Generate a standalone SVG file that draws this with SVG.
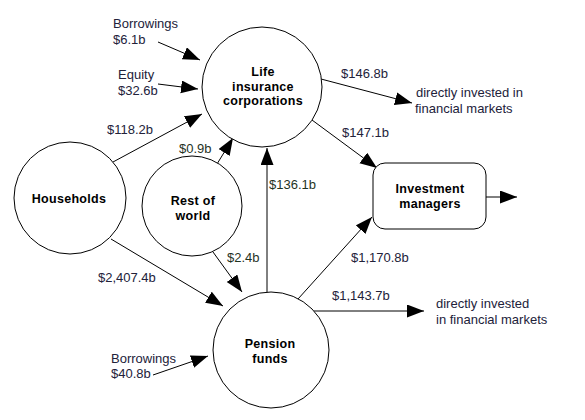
<svg xmlns="http://www.w3.org/2000/svg" width="585" height="420" viewBox="0 0 585 420">
<style>
.node{fill:#fff;stroke:#000;stroke-width:1}
.nl{font-family:"Liberation Sans",Arial,sans-serif;font-size:12.5px;font-weight:bold;fill:#000;text-anchor:middle;letter-spacing:0.3px}
.el{font-family:"Liberation Sans",Arial,sans-serif;font-size:13px;fill:#22223a}
.eg{fill:#1f331f}
.c{stroke:#000;stroke-width:1;fill:none;marker-end:url(#ah)}
</style>
<defs>
<marker id="ah" markerUnits="userSpaceOnUse" markerWidth="18" markerHeight="14" refX="17" refY="6.5" orient="auto">
<path d="M0,0 L17,6.5 L0,13 z" fill="#000"/>
</marker>
</defs>
<rect width="585" height="420" fill="#fff"/>
<g id="connectors">
<line class="c" x1="158" y1="42" x2="200" y2="60"/>
<line class="c" x1="158" y1="84" x2="198" y2="89"/>
<line class="c" x1="113" y1="162" x2="202" y2="114"/>
<line class="c" x1="217" y1="164" x2="233" y2="138"/>
<line class="c" x1="267" y1="292" x2="267" y2="148"/>
<line class="c" x1="111" y1="239" x2="223" y2="306"/>
<line class="c" x1="213" y1="252" x2="242" y2="292"/>
<line class="c" x1="153" y1="375" x2="208" y2="356"/>
<line class="c" x1="321" y1="79" x2="412" y2="103"/>
<line class="c" x1="312" y1="120" x2="377" y2="168"/>
<line class="c" x1="298" y1="299" x2="372" y2="217"/>
<line class="c" x1="314" y1="311" x2="424" y2="311"/>
<line class="c" x1="486" y1="197" x2="517" y2="197"/>
</g>
<g id="life">
<circle class="node" cx="262" cy="87" r="60"/>
<text class="nl" x="263" y="76">Life</text>
<text class="nl" x="263" y="91">insurance</text>
<text class="nl" x="263" y="105">corporations</text>
</g>
<g id="households">
<circle class="node" cx="70" cy="198" r="56"/>
<text class="nl" x="69" y="203">Households</text>
</g>
<g id="rest">
<circle class="node" cx="192" cy="206" r="50"/>
<text class="nl" x="193" y="205">Rest of</text>
<text class="nl" x="193" y="220">world</text>
</g>
<g id="pension">
<circle class="node" cx="271" cy="350" r="58"/>
<text class="nl" x="270" y="348">Pension</text>
<text class="nl" x="270" y="363">funds</text>
</g>
<g id="investment">
<rect class="node" x="373" y="163" width="113" height="66" rx="12" ry="12"/>
<text class="nl" x="430" y="193">Investment</text>
<text class="nl" x="430" y="208">managers</text>
</g>
<g id="labels">
<text class="el" x="113" y="28">Borrowings</text>
<text class="el" x="113" y="44">$6.1b</text>
<text class="el" x="118" y="79">Equity</text>
<text class="el" x="118" y="95">$32.6b</text>
<text class="el" x="107" y="134">$118.2b</text>
<text class="el eg" x="179" y="153">$0.9b</text>
<text class="el eg" x="269" y="189">$136.1b</text>
<text class="el" x="98" y="282">$2,407.4b</text>
<text class="el eg" x="227" y="262">$2.4b</text>
<text class="el" x="111" y="363">Borrowings</text>
<text class="el" x="111" y="378">$40.8b</text>
<text class="el" x="341" y="78">$146.8b</text>
<text class="el" x="416" y="97">directly invested in</text>
<text class="el" x="415" y="113">financial markets</text>
<text class="el" x="342" y="137">$147.1b</text>
<text class="el" x="351" y="262">$1,170.8b</text>
<text class="el" x="332" y="300">$1,143.7b</text>
<text class="el" x="436" y="308">directly invested</text>
<text class="el" x="436" y="324">in financial markets</text>
</g>
</svg>
